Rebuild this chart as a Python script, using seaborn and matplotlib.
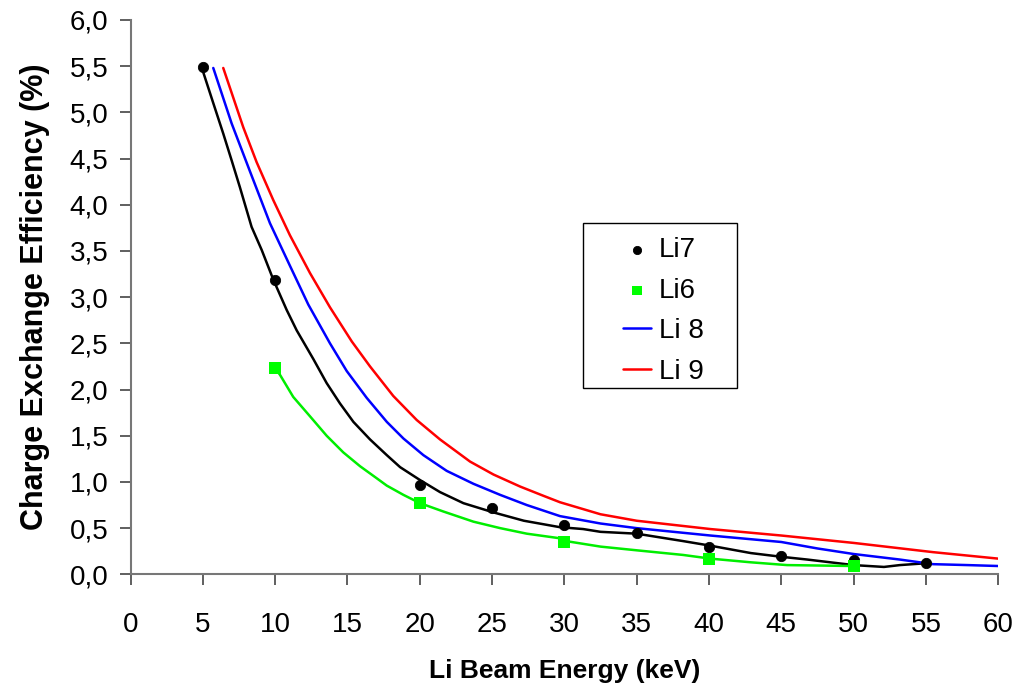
import matplotlib
matplotlib.use("Agg")
import matplotlib.pyplot as plt
from matplotlib.patches import Rectangle
from matplotlib.ticker import FuncFormatter, MultipleLocator
import seaborn as sns

# measured points
li7_x = [5, 10, 20, 25, 30, 35, 40, 45, 50, 55]
li7_y = [5.49, 3.18, 0.97, 0.72, 0.53, 0.45, 0.30, 0.20, 0.15, 0.12]
li6_x = [10, 20, 30, 40, 50]
li6_y = [2.23, 0.77, 0.35, 0.17, 0.09]

# fitted curves
li7_fit_x = [4.91, 5.72, 6.41, 6.99, 7.56, 8.37, 9.07, 9.87, 10.8, 11.49, 12.64, 13.56, 14.48, 15.41,
             16.56, 17.72, 18.64, 20.02, 21.4, 23.02, 25.1, 27.2, 29.7, 31.3, 32.5, 35.0, 38.2, 40.1,
             42.9, 45.0, 46.8, 50.0, 52.1, 53.2, 55.0]
li7_fit_y = [5.49, 5.10, 4.77, 4.48, 4.19, 3.76, 3.51, 3.19, 2.86, 2.64, 2.33, 2.07, 1.85, 1.65,
             1.46, 1.29, 1.16, 1.02, 0.89, 0.77, 0.67, 0.58, 0.51, 0.49, 0.46, 0.44, 0.36, 0.31,
             0.23, 0.19, 0.16, 0.10, 0.08, 0.10, 0.12]
li6_fit_x = [9.99, 10.33, 11.25, 12.41, 13.56, 14.71, 15.87, 17.02, 17.72, 18.87, 20.02, 21.63, 23.71,
             25.56, 27.4, 29.7, 30.1, 32.5, 35.0, 38.2, 40.1, 42.9, 45.4, 50.0]
li6_fit_y = [2.23, 2.16, 1.92, 1.71, 1.50, 1.32, 1.17, 1.04, 0.96, 0.86, 0.77, 0.68, 0.57,
             0.50, 0.44, 0.39, 0.36, 0.30, 0.26, 0.21, 0.17, 0.13, 0.10, 0.09]
li8_x = [5.72, 6.99, 8.26, 9.64, 11.02, 12.29, 13.79, 14.95, 16.33, 17.72, 18.87, 20.25, 21.86, 23.71,
         25.56, 27.4, 29.7, 32.5, 35.0, 40.1, 45.0, 47.5, 50.0, 53.2, 55.5, 57.9, 60.0]
li8_y = [5.48, 4.88, 4.36, 3.80, 3.34, 2.92, 2.50, 2.20, 1.91, 1.65, 1.47, 1.29, 1.12, 0.98,
         0.86, 0.75, 0.63, 0.55, 0.50, 0.42, 0.35, 0.28, 0.22, 0.16, 0.11, 0.10, 0.09]
li9_x = [6.41, 7.79, 8.72, 9.87, 11.02, 12.41, 13.79, 15.3, 16.56, 18.17, 19.79, 21.4, 23.48, 25.1,
         26.94, 28.55, 29.7, 32.5, 35.0, 40.1, 45.0, 50.0, 55.5, 60.0]
li9_y = [5.48, 4.84, 4.46, 4.05, 3.67, 3.26, 2.89, 2.52, 2.25, 1.93, 1.67, 1.46, 1.22, 1.08,
         0.95, 0.85, 0.78, 0.65, 0.58, 0.49, 0.42, 0.34, 0.24, 0.17]

sns.set_style("ticks")
plt.rcParams['font.family'] = ['Liberation Sans', 'DejaVu Sans']
plt.rcParams['text.color'] = 'black'
plt.rcParams['axes.labelcolor'] = 'black'

fig = plt.figure(figsize=(10.28, 6.87), dpi=100)
ax = fig.add_axes([0.127, 0.164, 0.844, 0.807])

lw = 1.8
sns.lineplot(x=li7_fit_x, y=li7_fit_y, ax=ax, color='black', lw=lw, sort=False, estimator=None)
sns.lineplot(x=li6_fit_x, y=li6_fit_y, ax=ax, color='#00ee00', lw=lw, sort=False, estimator=None)
sns.lineplot(x=li8_x, y=li8_y, ax=ax, color='#0000ff', lw=lw, sort=False, estimator=None, label='Li 8')
sns.lineplot(x=li9_x, y=li9_y, ax=ax, color='#ff0000', lw=lw, sort=False, estimator=None, label='Li 9')
sns.scatterplot(x=li7_x, y=li7_y, ax=ax, color='black', marker='o', s=55, edgecolor='black', label='Li7', zorder=5)
sns.scatterplot(x=li6_x, y=li6_y, ax=ax, color='#00ff00', marker='s', s=75, edgecolor='none', label='Li6', zorder=5)

ax.set_xlim(0, 60)
ax.set_ylim(0, 6.0)
ax.xaxis.set_major_locator(MultipleLocator(5))
ax.yaxis.set_major_locator(MultipleLocator(0.5))
ax.yaxis.set_major_formatter(FuncFormatter(lambda v, p: f"{v:.1f}".replace('.', ',')))
ax.tick_params(axis='both', labelsize=20, length=8, width=1.2, color='#444444',
               labelcolor='black', pad=8)
ax.tick_params(axis='x', pad=19)

for s in ['top', 'right']:
    ax.spines[s].set_visible(False)
for s in ['left', 'bottom']:
    ax.spines[s].set_color('#777777')
    ax.spines[s].set_linewidth(1.5)

ax.set_xlabel('Li Beam Energy (keV)', fontsize=19, fontweight='bold', labelpad=15)
ax.set_ylabel('Charge Exchange Efficiency (%)', fontsize=22, fontweight='bold', labelpad=14)

handles, labels = ax.get_legend_handles_labels()
order = [labels.index(l) for l in ['Li7', 'Li6', 'Li 8', 'Li 9']]
leg = ax.legend([handles[i] for i in order], [labels[i] for i in order],
                loc='upper left', bbox_to_anchor=(0.568, 0.608), borderaxespad=0,
                fontsize=20, frameon=False, borderpad=0,
                handlelength=1.0, handletextpad=0.28, markerscale=0.8,
                labelspacing=0.52)
# legend frame box
ax.add_patch(Rectangle((0.5215, 0.336), 0.1776, 0.298, transform=ax.transAxes,
                       fill=False, edgecolor='black', lw=1.0, zorder=6, clip_on=False))

fig.savefig('out.png', dpi=100)
